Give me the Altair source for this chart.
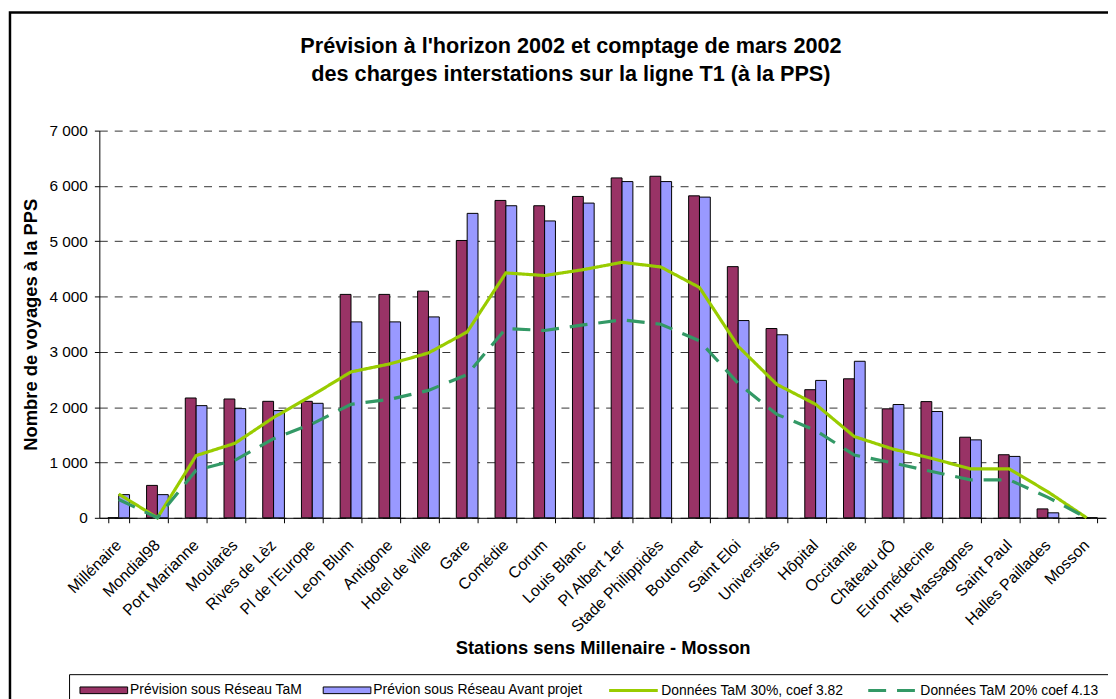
import altair as alt
import pandas as pd

stations = ["Millénaire", "Mondial98", "Port Marianne", "Moularès", "Rives de Lèz",
            "Pl de l'Europe", "Leon Blum", "Antigone", "Hotel de ville", "Gare",
            "Comédie", "Corum", "Louis Blanc", "Pl Albert 1er", "Stade Philippidès",
            "Boutonnet", "Saint Eloi", "Universités", "Hôpital", "Occitanie",
            "Château dÔ", "Euromédecine", "Hts Massagnes", "Saint Paul",
            "Halles Paillades", "Mosson"]

prev_tam = [0, 586, 2166, 2148, 2106, 2106, 4039, 4039, 4098, 5014,
            5738, 5642, 5810, 6145, 6175, 5821, 4541, 3422, 2316, 2513,
            1970, 2101, 1457, 1140, 161, 0]
prev_avant = [419, 419, 2028, 1974, 1938, 2070, 3542, 3542, 3632, 5504,
              5642, 5367, 5690, 6079, 6079, 5798, 3566, 3309, 2484, 2830,
              2048, 1922, 1409, 1110, 90, 0]
tam30 = [430, 0, 1125, 1346, 1813, 2214, 2638, 2782, 2980, 3360,
         4427, 4380, 4487, 4619, 4535, 4164, 3099, 2411, 2052, 1469,
         1242, 1075, 884, 884, 470, 0]
tam20 = [330, 0, 860, 1040, 1430, 1700, 2052, 2142, 2303, 2590,
         3422, 3386, 3488, 3578, 3500, 3200, 2430, 1870, 1580, 1134,
         991, 836, 687, 687, 370, 0]

bar_series = ["Prévision sous Réseau TaM", "Prévion sous Réseau Avant projet"]
line_series = ["Données TaM 30%, coef 3.82", "Données TaM 20% coef 4.13"]
bar_colors = ["#993366", "#9999FF"]
line_colors = ["#99CC00", "#339966"]

n = len(stations)
bars = pd.DataFrame({
    "station": stations * 2,
    "serie": [bar_series[0]] * n + [bar_series[1]] * n,
    "value": prev_tam + prev_avant,
})
lines = pd.DataFrame({
    "station": stations * 2,
    "serie": [line_series[0]] * n + [line_series[1]] * n,
    "value": tam30 + tam20,
})

W, H = 1014, 390
FONT = "Liberation Sans"

x_axis = alt.Axis(
    title="Stations sens Millenaire - Mosson", titleFontSize=18.5, titleFontWeight="bold",
    titleX=W / 2, titleY=131, titleAlign="center", titleBaseline="middle",
    labelAngle=315, labelFontSize=16, labelPadding=14, labelOffset=-6, labelColor="black",
    tickBand="extent", tickSize=5, tickColor="black", domainColor="black",
    grid=False, labelOverlap=False,
)
y_axis = alt.Axis(
    title="Nombre de voyages à la PPS", titleFontSize=18.5, titleFontWeight="bold",
    titleAngle=270, titleX=-69, titleY=H / 2, titleAlign="center", titleBaseline="middle",
    values=list(range(0, 7001, 1000)),
    labelExpr="replace(format(datum.value, ','), ',', ' ')",
    labelFontSize=15.5, labelPadding=7, labelColor="black",
    tickSize=5, tickColor="black", domainColor="black",
    grid=True, gridDash=[8, 7], gridColor="#333333", gridWidth=1,
)

xenc = alt.X("station:N", sort=stations,
             scale=alt.Scale(type="band", paddingInner=0.44, paddingOuter=0.22),
             axis=x_axis)
yenc = alt.Y("value:Q", scale=alt.Scale(domain=[0, 7000], nice=False), axis=y_axis)

fill_legend = alt.Legend(
    title=None, orient="none", legendX=-20, legendY=539, direction="horizontal",
    symbolType="M-1,-0.14H1V0.14H-1Z", symbolSize=2304,
    symbolStrokeColor="black", symbolStrokeWidth=1,
    labelFontSize=14, labelOffset=2, labelLimit=0, columnPadding=18, padding=0,
    labelColor="black",
)
line_legend = alt.Legend(
    title=None, orient="none", legendX=512, legendY=538, direction="horizontal",
    symbolType="stroke", symbolSize=2401, symbolStrokeWidth=3,
    labelFontSize=14, labelOffset=2, labelLimit=0, columnPadding=18, padding=0,
    labelColor="black",
)

bar = alt.Chart(bars).mark_bar(stroke="black", strokeWidth=1).encode(
    x=xenc,
    xOffset=alt.XOffset("serie:N", sort=bar_series,
                        scale=alt.Scale(paddingInner=0, paddingOuter=0)),
    y=yenc,
    fill=alt.Fill("serie:N", sort=bar_series,
                  scale=alt.Scale(domain=bar_series, range=bar_colors),
                  legend=fill_legend),
)

line = alt.Chart(lines).mark_line(strokeWidth=3.2).encode(
    x=xenc,
    y=yenc,
    stroke=alt.Stroke("serie:N", sort=line_series,
                      scale=alt.Scale(domain=line_series, range=line_colors),
                      legend=line_legend),
    strokeDash=alt.StrokeDash("serie:N", sort=line_series,
                              scale=alt.Scale(domain=line_series, range=[[1, 0], [18, 11]]),
                              legend=line_legend),
)

frame_df = pd.DataFrame({"k": [0]})
outer = alt.Chart(frame_df).mark_rect(fillOpacity=0, stroke="black", strokeWidth=2.5).encode(
    x=alt.value(-90), x2=alt.value(W + 40), y=alt.value(-119), y2=alt.value(H + 200)
)
legbox = alt.Chart(frame_df).mark_rect(fillOpacity=0, stroke="black", strokeWidth=1).encode(
    x=alt.value(-30), x2=alt.value(W + 40), y=alt.value(548), y2=alt.value(H + 200)
)

chart = alt.layer(outer, legbox, bar, line).properties(
    width=W, height=H,
    autosize=alt.AutoSizeParams(type="none"),
    padding={"left": 92, "top": 121, "right": 2, "bottom": 180},
    title=alt.Title(
        ["Prévision à l'horizon 2002 et comptage de mars 2002",
         "des charges interstations sur la ligne T1 (à la PPS)"],
        fontSize=21.8, fontWeight="bold", lineHeight=28, anchor="middle",
        dx=-32, offset=0, dy=75, color="black", font=FONT,
    ),
).configure(font=FONT).configure_view(strokeWidth=0).configure_axis(
    labelFont=FONT, titleFont=FONT, titleColor="black"
).configure_legend(labelFont=FONT)

chart.save("out.html", embed_options={"renderer": "svg", "actions": False})
